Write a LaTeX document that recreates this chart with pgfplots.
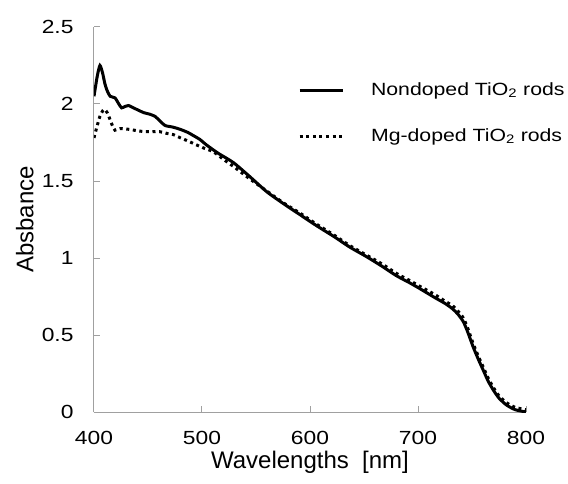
\documentclass[border=0pt]{standalone}
\usepackage{fontspec}
\setmainfont{Liberation Sans}
\usepackage{graphicx}
\usepackage{pgfplots}
\pgfplotsset{compat=1.18}
\definecolor{axgray}{RGB}{160,160,160}
\newcommand{\tklab}[1]{\scalebox{1.2}[1]{\fontsize{19bp}{23bp}\selectfont #1}}
\newcommand{\legtxt}[1]{\scalebox{1.2}[1]{#1}}
\begin{document}
\begin{tikzpicture}
\begin{axis}[
  anchor=south west, at={(0,0)},
  scale only axis, width=432bp, height=385bp,
  xmin=400, xmax=800, ymin=0, ymax=2.5,
  axis x line=bottom, axis y line=left,
  axis line style={-, axgray, line width=1bp},
  tick style={axgray, line width=1bp},
  tick align=inside, major tick length=6bp,
  xtick={400,500,600,700,800},
  ytick={0,0.5,1,1.5,2,2.5},
  /pgf/number format/assume math mode=true,
  xticklabel={\tklab{\pgfmathprintnumber{\tick}}},
  yticklabel={\tklab{\pgfmathprintnumber{\tick}}},
  yticklabel style={xshift=-17bp},
  xticklabel style={yshift=-16bp},
  xlabel={Wavelengths\ \ [nm]},
  ylabel={Absbance},
  label style={font=\fontsize{24bp}{28bp}\selectfont},
  xlabel style={at={(axis description cs:0.5,-0.13)}, anchor=center},
  ylabel style={at={(axis description cs:-0.16,0.5)}, anchor=center, rotate=0},
  legend style={draw=none, fill=none, at={(axis description cs:0.465,0.868)}, anchor=north west,
    font=\fontsize{17.7bp}{22bp}\selectfont,
    nodes={inner sep=0pt, text height=15bp, text depth=5bp},
    row sep=26bp,
    /tikz/every odd column/.append style={column sep=27bp}},
  legend cell align=left,
  legend image code/.code={\draw[#1] (0bp,0bp) -- (43bp,0bp);},
]
\coordinate (ll) at (rel axis cs:0,0);
\addplot[black, line width=3bp, smooth, tension=0.4] coordinates {
(400,2.05) (403,2.18) (405.5,2.25) (408,2.20) (410,2.134) (412,2.09) (415,2.05) (419.4,2.04)
(423,2.00) (425.6,1.975) (429,1.985) (432,1.99) (438,1.97) (446,1.944) (451,1.935) (456.5,1.92)
(461,1.89) (466,1.86) (473,1.85) (480,1.835) (487,1.815) (492,1.795) (498,1.77) (504,1.735)
(515,1.68) (529,1.62) (544,1.53) (560,1.43) (575,1.355) (591,1.28) (606,1.21) (622,1.14)
(637,1.07) (652,1.01) (667,0.945) (680,0.885) (692,0.84) (702,0.80) (715,0.745) (725,0.705)
(732,0.67) (737,0.635) (742,0.586) (746,0.52) (751,0.424) (756,0.34) (760.5,0.27) (765,0.20)
(769.7,0.143) (775,0.09) (782,0.045) (790,0.015) (800,0.0)
};
\addlegendentry{\legtxt{Nondoped TiO\textsubscript{2} rods}}
\addplot[black, line width=3bp, dash pattern=on 3bp off 3.6bp, smooth, tension=0.4] coordinates {
(400,1.78) (403,1.86) (405.5,1.92) (408,1.955) (410,1.965) (412.5,1.94) (414.8,1.90) (417,1.86)
(419.4,1.83) (424,1.84) (433,1.835) (441,1.825) (449,1.82) (461,1.82) (467,1.81) (474,1.80)
(480,1.78) (487,1.76) (495,1.734) (503,1.71) (510.5,1.69) (520,1.64) (529,1.595) (544,1.515)
(560,1.435) (575,1.36) (591,1.29) (606,1.22) (622,1.15) (637,1.08) (652,1.02) (667,0.96)
(680,0.90) (692,0.855) (702,0.815) (715,0.765) (725,0.72) (732,0.69) (737,0.655) (742,0.61)
(746,0.545) (751,0.445) (756,0.36) (760.5,0.29) (765,0.22) (769.7,0.16) (775,0.105) (782,0.06)
(790,0.03) (800,0.015)
};
\addlegendentry{\legtxt{Mg-doped TiO\textsubscript{2} rods}}
\end{axis}
\pgfresetboundingbox
\path[use as bounding box] (ll) ++(-94bp,-72bp) rectangle ++(568bp,484bp);
\end{tikzpicture}
\end{document}
